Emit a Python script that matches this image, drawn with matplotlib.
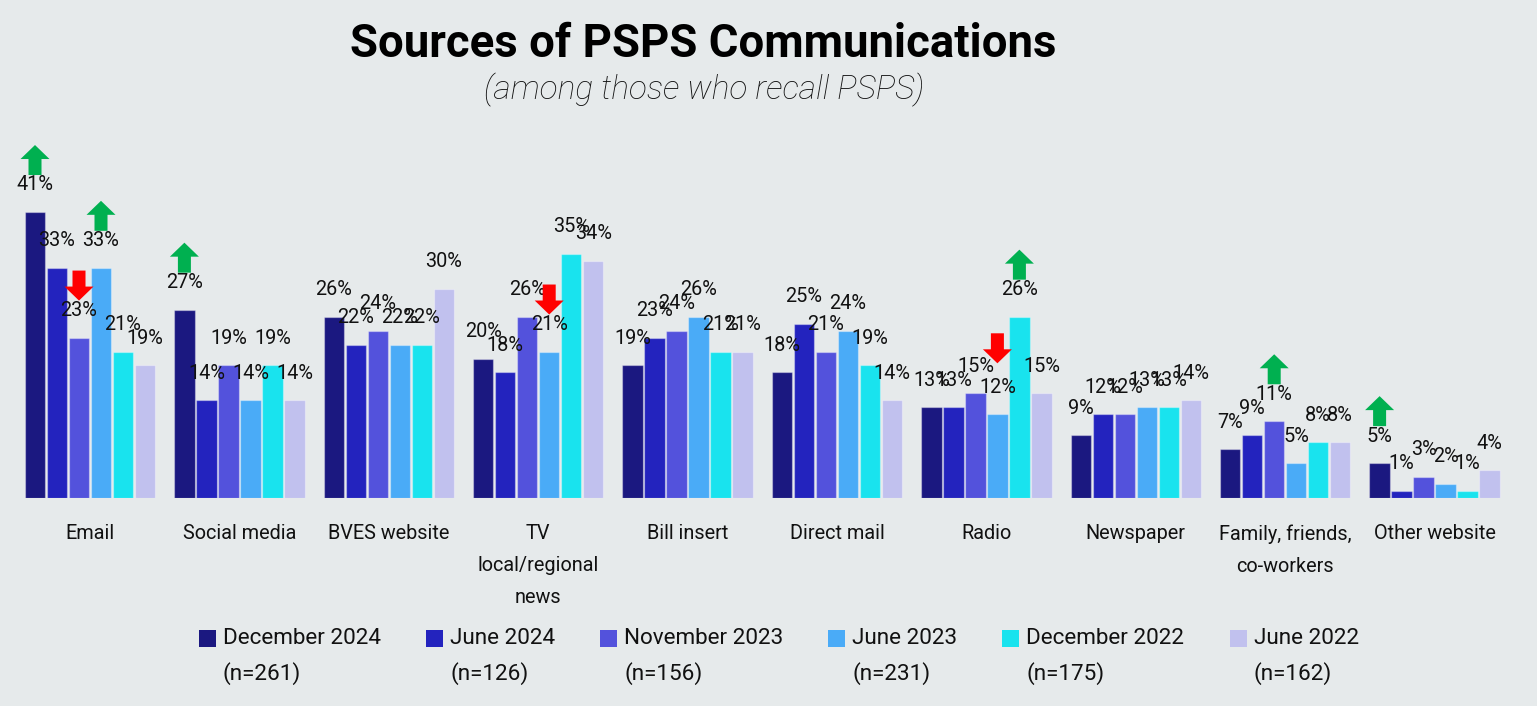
import matplotlib
matplotlib.use("Agg")
import matplotlib.pyplot as plt
from matplotlib.patches import Polygon, Rectangle
import numpy as np

# ---- data -------------------------------------------------------------
categories = ["Email", "Social media", "BVES website", "TV\nlocal/regional\nnews",
              "Bill insert", "Direct mail", "Radio", "Newspaper",
              "Family, friends,\nco-workers", "Other website"]
waves = ["December 2024", "June 2024", "November 2023",
         "June 2023", "December 2022", "June 2022"]
sample_sizes = ["(n=261)", "(n=126)", "(n=156)", "(n=231)", "(n=175)", "(n=162)"]

dec_2024 = [41, 27, 26, 20, 19, 18, 13, 9, 7, 5]
jun_2024 = [33, 14, 22, 18, 23, 25, 13, 12, 9, 1]
nov_2023 = [23, 19, 24, 26, 24, 21, 15, 12, 11, 3]
jun_2023 = [33, 14, 22, 21, 26, 24, 12, 13, 5, 2]
dec_2022 = [21, 19, 22, 35, 21, 19, 26, 13, 8, 1]
jun_2022 = [19, 14, 30, 34, 21, 14, 15, 14, 8, 4]

# significant changes: (category index, wave index)
sig_up = [(0, 0), (0, 3), (1, 0), (6, 4), (8, 2), (9, 0)]
sig_down = [(0, 2), (3, 3), (6, 3)]

# ---- style ------------------------------------------------------------
series = [dec_2024, jun_2024, nov_2023, jun_2023, dec_2022, jun_2022]
colors = ["#1B1880", "#2323BE", "#5352DC", "#4AABF7", "#19E3EE", "#C1C1EE"]
bg = "#E6EAEB"
font = ["Roboto", "DejaVu Sans"]
plt.rcParams["font.family"] = font

W, H = 1537, 706
fig = plt.figure(figsize=(W / 100, H / 100), dpi=100, facecolor=bg)
base_px, top_px = 498, 100
ax = fig.add_axes([0, (H - base_px) / H, 1, (base_px - top_px) / H])
ax.set_facecolor(bg)

group_px = 149.4
first_center_px = 90
px_per_pct = 6.975
ax.set_xlim(-first_center_px / group_px, (W - first_center_px) / group_px)
ax.set_ylim(0, (base_px - top_px) / px_per_pct)

pitch = 22 / group_px
bar_w = 20.3 / group_px
x = np.arange(len(categories))

for k, (vals, col) in enumerate(zip(series, colors)):
    xs = x + (k - 2.5) * pitch
    ax.bar(xs, vals, width=bar_w, color=col,
           edgecolor=(1, 1, 1, 0.35), linewidth=0.9, zorder=2)
    for xi, v in zip(xs, vals):
        ax.annotate(f"{v}%", (xi, v), xytext=(0, 19.5), textcoords="offset points",
                    ha="center", va="center", fontsize=14.3, color="#111111",
                    zorder=4)

for s in ax.spines.values():
    s.set_visible(False)
ax.set_yticks([])
ax.set_xticks(x)
ax.set_xticklabels(categories, fontsize=14.3, linespacing=1.85, color="#111111")
ax.tick_params(axis="x", length=0, pad=19)

# ---- change arrows ----------------------------------------------------
fig.canvas.draw()
arrow_lift = {(6, 3): 51}   # px between bar top and arrow bottom


def draw_arrow(ci, k, up, color):
    v = series[k][ci]
    xc = x[ci] + (k - 2.5) * pitch
    ax0, ay0 = ax.transData.transform((xc, v))
    lift = arrow_lift.get((ci, k), 37)
    b = ay0 + lift          # bottom of arrow (display px, y up)
    h, hh, hw, sw = 30, 14, 14.5, 6.5
    if up:
        pts = [(-sw, 0), (sw, 0), (sw, h - hh), (hw, h - hh), (0, h),
               (-hw, h - hh), (-sw, h - hh)]
    else:
        pts = [(-sw, h), (sw, h), (sw, hh), (hw, hh), (0, 0),
               (-hw, hh), (-sw, hh)]
    verts = [(ax0 + px, b + py) for px, py in pts]
    fig.patches.append(Polygon(verts, closed=True, facecolor=color,
                               edgecolor="none", transform=None, zorder=5))


for ci, k in sig_up:
    draw_arrow(ci, k, True, "#00B050")
for ci, k in sig_down:
    draw_arrow(ci, k, False, "#FF0000")

# ---- titles -----------------------------------------------------------
fig.text(703 / W, 1 - 44 / H, "Sources of PSPS Communications", ha="center",
         va="center", fontsize=32.8, fontweight="bold", color="#000000")
fig.text(704 / W, 1 - 90 / H, "(among those who recall PSPS)", ha="center",
         va="center", fontsize=24, fontstyle="italic", fontweight="light",
         color="#111111")

# ---- legend -----------------------------------------------------------
renderer = fig.canvas.get_renderer()
cursor = 199
row1, row2 = 638.5, 674
for name, n, col in zip(waves, sample_sizes, colors):
    fig.patches.append(Rectangle((cursor / W, 1 - 647 / H), 17 / W, 17 / H,
                                 transform=fig.transFigure, facecolor=col,
                                 edgecolor="none"))
    tx = cursor + 24
    t1 = fig.text(tx / W, 1 - row1 / H, name, ha="left", va="center",
                  fontsize=16.2, color="#111111")
    fig.text(tx / W, 1 - row2 / H, n, ha="left", va="center",
             fontsize=16.2, color="#111111")
    bb = t1.get_window_extent(renderer)
    cursor = bb.x1 + 45

fig.savefig("out.png", dpi=100, facecolor=bg)
